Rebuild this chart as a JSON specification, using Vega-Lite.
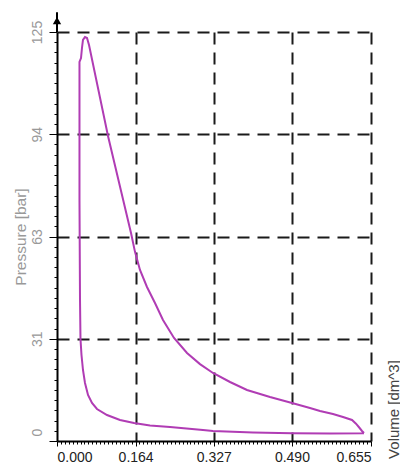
{
  "$schema": "https://vega.github.io/schema/vega-lite/v6.json",
  "width": 314,
  "height": 409,
  "autosize": {"type": "none"},
  "padding": {"left": 57, "top": 32, "right": 29, "bottom": 22},
  "background": "white",
  "config": {"view": {"stroke": null}, "font": "Liberation Sans"},
  "data": {"values": [
    {"i": 0, "V": 0.6404, "P": 2.4},
    {"i": 1, "V": 0.5695, "P": 2.3},
    {"i": 2, "V": 0.4902, "P": 2.4},
    {"i": 3, "V": 0.4088, "P": 2.6},
    {"i": 4, "V": 0.3254, "P": 3.06},
    {"i": 5, "V": 0.3045, "P": 3.36},
    {"i": 6, "V": 0.2357, "P": 4.28},
    {"i": 7, "V": 0.194, "P": 4.74},
    {"i": 8, "V": 0.1606, "P": 5.5},
    {"i": 9, "V": 0.1314, "P": 6.42},
    {"i": 10, "V": 0.1043, "P": 7.95},
    {"i": 11, "V": 0.0834, "P": 9.78},
    {"i": 12, "V": 0.073, "P": 11.61},
    {"i": 13, "V": 0.0647, "P": 14.06},
    {"i": 14, "V": 0.0584, "P": 17.73},
    {"i": 15, "V": 0.0542, "P": 21.7},
    {"i": 16, "V": 0.0511, "P": 26.28},
    {"i": 17, "V": 0.049, "P": 31.17},
    {"i": 18, "V": 0.048, "P": 43.09},
    {"i": 19, "V": 0.0469, "P": 73.66},
    {"i": 20, "V": 0.0469, "P": 115.83},
    {"i": 21, "V": 0.0501, "P": 117.05},
    {"i": 22, "V": 0.0521, "P": 120.11},
    {"i": 23, "V": 0.0542, "P": 122.56},
    {"i": 24, "V": 0.0584, "P": 123.47},
    {"i": 25, "V": 0.0626, "P": 123.17},
    {"i": 26, "V": 0.0668, "P": 121.03},
    {"i": 27, "V": 0.1064, "P": 93.22},
    {"i": 28, "V": 0.1545, "P": 63.5},
    {"i": 29, "V": 0.1627, "P": 57.8},
    {"i": 30, "V": 0.1731, "P": 52.26},
    {"i": 31, "V": 0.1877, "P": 47.07},
    {"i": 32, "V": 0.2044, "P": 42.18},
    {"i": 33, "V": 0.2211, "P": 36.98},
    {"i": 34, "V": 0.2441, "P": 31.48},
    {"i": 35, "V": 0.2712, "P": 26.89},
    {"i": 36, "V": 0.2983, "P": 23.5},
    {"i": 37, "V": 0.3254, "P": 20.78},
    {"i": 38, "V": 0.3609, "P": 18.03},
    {"i": 39, "V": 0.3963, "P": 15.59},
    {"i": 40, "V": 0.4443, "P": 13.45},
    {"i": 41, "V": 0.4902, "P": 11.61},
    {"i": 42, "V": 0.5277, "P": 10.09},
    {"i": 43, "V": 0.5486, "P": 9.17},
    {"i": 44, "V": 0.5757, "P": 8.25},
    {"i": 45, "V": 0.5966, "P": 7.33},
    {"i": 46, "V": 0.6154, "P": 6.42},
    {"i": 47, "V": 0.6237, "P": 5.3},
    {"i": 48, "V": 0.63, "P": 4.2},
    {"i": 49, "V": 0.6362, "P": 3.06},
    {"i": 50, "V": 0.6404, "P": 2.44}
  ]},
  "layer": [
    {
      "mark": {"type": "line", "color": "#b03cb4", "strokeWidth": 2, "clip": false},
      "encoding": {
        "x": {
          "field": "V", "type": "quantitative",
          "scale": {"domain": [0, 0.655], "nice": false, "zero": false},
          "axis": {
            "values": [0,0.0082,0.0164,0.0246,0.0328,0.0409,0.0491,0.0573,0.0655,0.0737,0.0819,0.0901,0.0983,0.1064,0.1146,0.1228,0.131,0.1392,0.1474,0.1556,0.164,0.1719,0.1801,0.1883,0.1965,0.2047,0.2129,0.2211,0.2293,0.2374,0.2456,0.2538,0.262,0.2702,0.2784,0.2866,0.2948,0.3029,0.3111,0.3193,0.327,0.3357,0.3439,0.3521,0.3603,0.3684,0.3766,0.3848,0.393,0.4012,0.4094,0.4176,0.4258,0.4339,0.4421,0.4503,0.4585,0.4667,0.4749,0.4831,0.49,0.4994,0.5076,0.5158,0.524,0.5322,0.5404,0.5486,0.5568,0.5649,0.5731,0.5813,0.5895,0.5977,0.6059,0.6141,0.6223,0.6304,0.6386,0.6468,0.655],
            "tickCount": 500,
            "labelExpr": "indexof([0,0.164,0.327,0.49,0.655], datum.value) >= 0 ? format(datum.value, '.3f') : ''",
            "labelFlush": true,
            "labelOverlap": false,
            "labelColor": "#222222",
            "labelFontSize": 14,
            "labelPadding": 4,
            "tickSize": {"condition": {"test": "indexof([0,0.164,0.327,0.49,0.655], datum.value) >= 0", "value": 5}, "value": 3},
            "tickColor": "black",
            "tickWidth": 1,
            "grid": true,
            "gridColor": "#1a1a1a",
            "gridWidth": 2,
            "gridDash": [12, 8],
            "gridOpacity": {"condition": {"test": "indexof([0.164,0.327,0.49,0.655], datum.value) >= 0", "value": 1}, "value": 0},
            "domainColor": "black",
            "domainWidth": 2,
            "title": "Volume [dm^3]",
            "titleAngle": -90,
            "titleX": 336,
            "titleY": -32,
            "titleAlign": "center",
            "titleBaseline": "middle",
            "titleFontSize": 15,
            "titleFontWeight": "normal",
            "titleColor": "#444444"
          }
        },
        "y": {
          "field": "P", "type": "quantitative",
          "scale": {"domain": [0, 125], "nice": false, "zero": false},
          "axis": {
            "values": [0,3.125,6.25,9.375,12.5,15.625,18.75,21.875,25,28.125,31.25,34.375,37.5,40.625,43.75,46.875,50,53.125,56.25,59.375,62.5,65.625,68.75,71.875,75,78.125,81.25,84.375,87.5,90.625,93.75,96.875,100,103.125,106.25,109.375,112.5,115.625,118.75,121.875,125],
            "tickCount": 500,
            "labelExpr": "indexof([0,31.25,62.5,93.75,125], datum.value) >= 0 ? format(datum.value, '.0f') : ''",
            "labelOverlap": false,
            "labelAngle": -90,
            "labelColor": "#999999",
            "labelFontSize": 14,
            "labelPadding": 5,
            "labelOffset": {"condition": {"test": "datum.value == 0", "value": -9}, "value": 0},
            "tickSize": {"condition": {"test": "indexof([0,31.25,62.5,93.75,125], datum.value) >= 0", "value": 8}, "value": 3},
            "tickColor": "black",
            "tickWidth": 1,
            "grid": true,
            "gridColor": "#1a1a1a",
            "gridWidth": 2,
            "gridDash": [12, 8],
            "gridOpacity": {"condition": {"test": "indexof([31.25,62.5,93.75,125], datum.value) >= 0", "value": 1}, "value": 0},
            "domainColor": "black",
            "domainWidth": 2,
            "title": "Pressure [bar]",
            "titleFontSize": 15.5,
            "titleFontWeight": "normal",
            "titleColor": "#999999",
            "titlePadding": 2
          }
        },
        "order": {"field": "i"}
      }
    },
    {
      "data": {"values": [{}]},
      "mark": {"type": "rule", "color": "black", "strokeWidth": 2, "clip": false},
      "encoding": {
        "x": {"datum": 0, "type": "quantitative"},
        "y": {"datum": 125, "type": "quantitative"},
        "y2": {"datum": 131}
      }
    },
    {
      "data": {"values": [{}]},
      "mark": {"type": "point", "shape": "triangle-up", "filled": true, "color": "black", "size": 70, "opacity": 1, "clip": false},
      "encoding": {
        "x": {"datum": 0, "type": "quantitative"},
        "y": {"datum": 128.5, "type": "quantitative"}
      }
    }
  ]
}
